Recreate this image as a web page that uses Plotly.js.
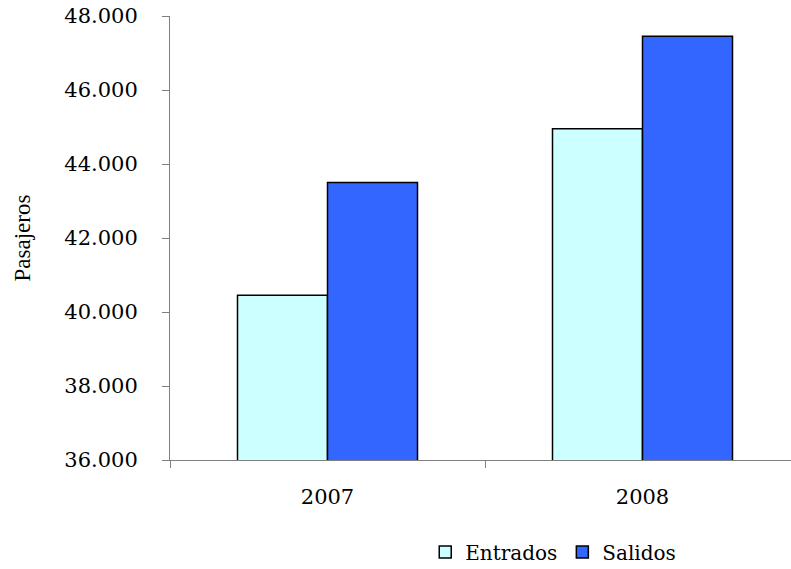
<!DOCTYPE html>
<html>
<head>
<meta charset="utf-8">
<script src="https://cdn.plot.ly/plotly-3.0.1.min.js"></script>
<style>
html,body{margin:0;padding:0;overflow:hidden;background:#fff;}
#chart{width:810px;height:569px;}
</style>
</head>
<body>
<div id="chart"></div>
<script>
const years = ["2007", "2008"];
const entrados = [40450, 44950];
const salidos = [43500, 47450];
const seriesNames = ["Entrados", "Salidos"];
const yTitle = "Pasajeros";

const tickFont = {family: "DejaVu Serif", size: 21, color: "#000"};

const data = [
  {type: "bar", name: seriesNames[0], x: years, y: entrados,
   marker: {color: "#CCFFFF", line: {color: "#000", width: 1.5}}},
  {type: "bar", name: seriesNames[1], x: years, y: salidos,
   marker: {color: "#3366FF", line: {color: "#000", width: 1.5}}}
];

const layout = {
  width: 810, height: 569,
  margin: {l: 170, r: 10, t: 16, b: 109},
  paper_bgcolor: "#fff", plot_bgcolor: "#fff",
  separators: ",.",
  barmode: "group",
  bargap: 0.4286,
  bargroupgap: 0,
  showlegend: true,
  legend: {orientation: "h", xref: "container", yref: "container",
           x: 0.683, xanchor: "center", y: 0.03, yanchor: "middle",
           font: {family: "DejaVu Serif", size: 20, color: "#000"}, traceorder: "normal"},
  xaxis: {
    type: "category", automargin: false,
    showline: true, linecolor: "#808080", linewidth: 1,
    ticks: "outside", tickson: "boundaries", ticklen: 7, tickcolor: "#808080",
    showgrid: false, zeroline: false,
    tickfont: tickFont, ticklabelstandoff: 18
  },
  yaxis: {
    range: [36000, 48000], dtick: 2000, tick0: 36000, automargin: false,
    tickformat: ",d",
    showline: true, linecolor: "#808080", linewidth: 1,
    ticks: "outside", ticklen: 7, tickcolor: "#808080",
    showgrid: false, zeroline: false,
    tickfont: tickFont, ticklabelstandoff: 20,
    title: {text: yTitle, font: {family: "Liberation Serif", size: 23, color: "#000"}, standoff: 27}
  }
};

Plotly.newPlot("chart", data, layout, {displayModeBar: false, staticPlot: true});
</script>
</body>
</html>
